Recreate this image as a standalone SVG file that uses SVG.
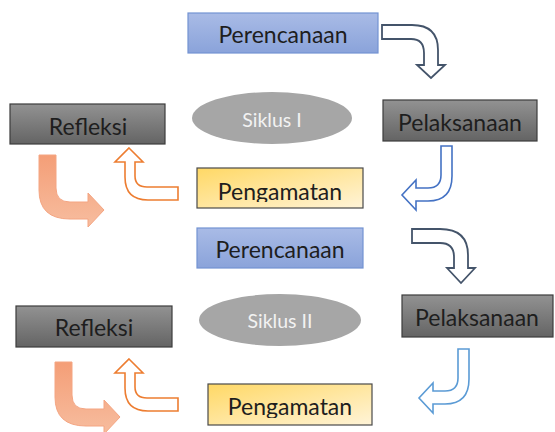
<svg xmlns="http://www.w3.org/2000/svg" width="555" height="432" viewBox="0 0 555 432">
<defs>
<linearGradient id="gBlue" x1="0" y1="0" x2="0" y2="1"><stop offset="0" stop-color="#A9BBE6"/><stop offset="1" stop-color="#8AA3DA"/></linearGradient>
<linearGradient id="gGray" x1="0" y1="0" x2="0" y2="1"><stop offset="0" stop-color="#929292"/><stop offset="1" stop-color="#646464"/></linearGradient>
<linearGradient id="gYellow" x1="0" y1="0" x2="1" y2="1"><stop offset="0" stop-color="#FFD865"/><stop offset="1" stop-color="#FFF4D8"/></linearGradient>
<linearGradient id="gOrange" x1="0" y1="0" x2="0" y2="1"><stop offset="0" stop-color="#F49E77"/><stop offset="1" stop-color="#F7BD9F"/></linearGradient>
<clipPath id="clipP1"><rect x="197" y="168" width="166" height="34"/></clipPath>
<clipPath id="clipP2"><rect x="208" y="384" width="164" height="34"/></clipPath>
</defs>
<style>
.lbl{font-family:Lato,"Open Sans","Liberation Sans",sans-serif;font-size:23px;fill:#1E1E1E;text-anchor:middle}
.blue{fill:url(#gBlue);stroke:#7393D2;stroke-width:1.2}
.gray{fill:url(#gGray);stroke:#3C3C3C;stroke-width:1.2}
.yel{fill:url(#gYellow);stroke:#4A4A4A;stroke-width:1.2}
.ell{fill:#A6A6A6}
.etxt{font-family:Lato,"Open Sans","Liberation Sans",sans-serif;font-size:19.5px;fill:#F2F2F2;text-anchor:middle}
.aDark{fill:#FFFFFF;stroke:#44546A;stroke-width:1.8;stroke-linejoin:miter}
.aBlue{fill:#FFFFFF;stroke:#4472C4;stroke-width:1.6}
.aBlue2{fill:#FFFFFF;stroke:#5B9BD5;stroke-width:1.6}
.aOrg{fill:#FFFFFF;stroke:#ED7D31;stroke-width:1.6}
.aFill{fill:url(#gOrange);stroke:#F4A582;stroke-width:1}
</style>

<g id="perencanaan1"><rect class="blue" x="188" y="13" width="190" height="40"/><text class="lbl" x="283" y="43">Perencanaan</text></g>
<g id="siklus1"><ellipse class="ell" cx="272" cy="118" rx="80" ry="26"/><text class="etxt" x="272" y="127">Siklus I</text></g>
<g id="refleksi1"><rect class="gray" x="10" y="104" width="155" height="40"/><text class="lbl" x="88" y="135">Refleksi</text></g>
<g id="pelaksanaan1"><rect class="gray" x="383" y="100" width="154" height="41"/><text class="lbl" x="460" y="131">Pelaksanaan</text></g>
<g id="pengamatan1"><rect class="yel" x="197" y="168" width="166" height="40"/><text class="lbl" x="280" y="200" clip-path="url(#clipP1)">Pengamatan</text></g>

<g id="perencanaan2"><rect class="blue" x="197" y="228" width="166" height="40"/><text class="lbl" x="280" y="258">Perencanaan</text></g>
<g id="siklus2"><ellipse class="ell" cx="280" cy="320" rx="81" ry="26"/><text class="etxt" x="280" y="328">Siklus II</text></g>
<g id="refleksi2"><rect class="gray" x="16" y="306" width="156" height="41"/><text class="lbl" x="94" y="336">Refleksi</text></g>
<g id="pelaksanaan2"><rect class="gray" x="402" y="295" width="151" height="42"/><text class="lbl" x="477" y="326">Pelaksanaan</text></g>
<g id="pengamatan2"><rect class="yel" x="208" y="384" width="164" height="41"/><text class="lbl" x="290" y="415" clip-path="url(#clipP2)">Pengamatan</text></g>

<g id="connectors">
<path class="aDark" d="M382,25 H412 Q438,25 438,50 V65 H445 L431,78 L417,65 H424 V53 Q424,39 411,39 H382 Z"/>
<path class="aBlue" d="M441,146 H452 V176 Q452,201 428,201 H416 V210 L402,195 L416,180 V188 H428 Q441,188 441,175 Z"/>
<path class="aOrg" d="M129,148 L143,162 H135 V176 Q135,187 147,187 H178 V200 H148 Q125,200 125,177 V162 H115 Z"/>
<path class="aFill" d="M39,155 H56 V188 Q56,202 70,202 H88 V193 L104,210 L88,227 V219 H70 Q39,219 39,190 Z"/>
<path class="aDark" d="M412,229 H440 Q468,229 468,255 V268 H475 L461,283 L447,268 H454 V257 Q454,243 440,243 H412 Z"/>
<path class="aBlue2" transform="translate(17,203)" d="M441,146 H452 V176 Q452,201 428,201 H416 V210 L402,195 L416,180 V188 H428 Q441,188 441,175 Z"/>
<path class="aOrg" transform="translate(0,211)" d="M129,148 L143,162 H135 V176 Q135,187 147,187 H178 V200 H148 Q125,200 125,177 V162 H115 Z"/>
<path class="aFill" transform="translate(16,207)" d="M39,155 H56 V188 Q56,202 70,202 H88 V193 L104,210 L88,227 V219 H70 Q39,219 39,190 Z"/>
</g>
</svg>
